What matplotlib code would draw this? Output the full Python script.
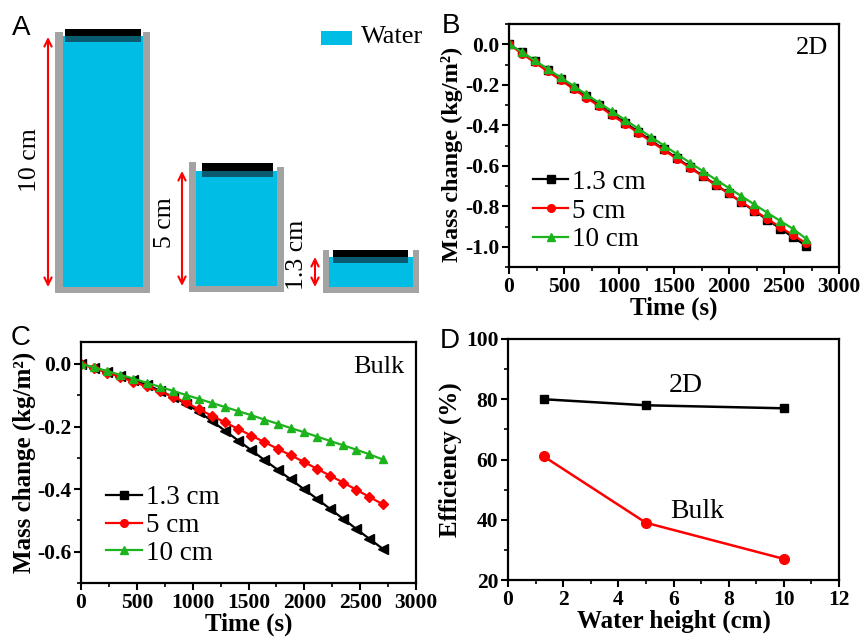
import matplotlib
matplotlib.use("Agg")
import matplotlib.pyplot as plt
from matplotlib.patches import Rectangle
from matplotlib.lines import Line2D
from matplotlib.ticker import MultipleLocator

SERIF = "Liberation Serif"
SANS = "Liberation Sans"

# ---------------- data ----------------
time_s = [0, 117, 235, 352, 470, 587, 704, 822, 939, 1057, 1174, 1291,
          1409, 1526, 1643, 1761, 1878, 1996, 2113, 2230, 2348, 2465, 2583, 2700]

labels = ["1.3 cm", "5 cm", "10 cm"]

# Panel B (2D)
b_13 = [0, -0.040, -0.084, -0.127, -0.171, -0.214, -0.258, -0.301, -0.345, -0.388,
        -0.432, -0.475, -0.519, -0.562, -0.606, -0.649, -0.693, -0.736, -0.780,
        -0.823, -0.866, -0.910, -0.953, -0.995]
b_5 = [0, -0.046, -0.090, -0.134, -0.177, -0.221, -0.264, -0.307, -0.351, -0.394,
       -0.437, -0.480, -0.523, -0.566, -0.609, -0.652, -0.695, -0.737, -0.779,
       -0.821, -0.862, -0.903, -0.943, -0.982]
b_10 = [0, -0.038, -0.080, -0.122, -0.164, -0.206, -0.248, -0.290, -0.332, -0.374,
        -0.416, -0.458, -0.500, -0.542, -0.584, -0.626, -0.668, -0.709, -0.750,
        -0.791, -0.832, -0.872, -0.912, -0.960]

# Panel C (Bulk)
c_13 = [0, -0.012, -0.025, -0.038, -0.052, -0.067, -0.085, -0.105, -0.127, -0.153,
        -0.183, -0.214, -0.245, -0.276, -0.307, -0.338, -0.369, -0.400, -0.431,
        -0.463, -0.495, -0.527, -0.559, -0.590]
c_5 = [0, -0.014, -0.028, -0.042, -0.057, -0.072, -0.088, -0.105, -0.123, -0.145,
       -0.166, -0.187, -0.208, -0.229, -0.250, -0.271, -0.292, -0.313, -0.335,
       -0.357, -0.379, -0.402, -0.425, -0.448]
c_10 = [0, -0.011, -0.023, -0.035, -0.047, -0.060, -0.073, -0.086, -0.099, -0.112,
        -0.125, -0.138, -0.151, -0.164, -0.178, -0.191, -0.205, -0.218, -0.232,
        -0.246, -0.260, -0.274, -0.289, -0.305]

# Panel D
water_height = [1.3, 5, 10]
eff_2d = [80, 78, 77]
eff_bulk = [61, 39, 27]

colors = ["black", "#ff0000", "#1db31d"]

plt.rcParams["font.family"] = [SERIF, "DejaVu Serif"]

fig = plt.figure(figsize=(8.66, 6.43), dpi=100)
W, H = 866, 643

# ---------------- Panel A (schematic, pixel coords) ----------------
axa = fig.add_axes([0, 0, 1, 1], zorder=0)
axa.set_xlim(0, W)
axa.set_ylim(H, 0)
axa.axis("off")

water_c = "#00bde6"
gray_c = "#a3a3a3"
teal_c = "#0a5a70"

def rect(x0, y0, x1, y1, c):
    axa.add_patch(Rectangle((x0, y0), x1 - x0, y1 - y0, facecolor=c, edgecolor="none"))

def container(wl0, wl1, wr0, wr1, top_l, top_r, bottom, water_top, lid_x0, lid_x1, lid_top):
    rect(wl1, water_top, wr0, bottom - 6, water_c)
    rect(wl0, top_l, wl1, bottom, gray_c)
    rect(wr0, top_r, wr1, bottom, gray_c)
    rect(wl0, bottom - 6, wr1, bottom, gray_c)
    rect(lid_x0, lid_top, lid_x1, water_top, "black")
    rect(lid_x0, water_top, lid_x1, water_top + 6, teal_c)

container(55, 63, 143, 150, 32, 32, 293, 36, 65, 141, 29)
container(189, 196, 277, 284, 162, 167, 292, 171, 202, 273, 163)
container(323, 329, 413, 419, 250, 250, 293, 257, 333, 408, 250)

def arrow(x, y0, y1):
    axa.annotate("", xy=(x, y0), xytext=(x, y1),
                 arrowprops=dict(arrowstyle="<->", color="red", lw=1.5,
                                 shrinkA=0, shrinkB=0, mutation_scale=13))

arrow(48, 37, 287)
arrow(182, 171, 286)
arrow(315, 257, 287)
axa.text(30, 160, "10 cm", rotation=90, ha="center", va="center", fontsize=18.5)
axa.text(165, 223, "5 cm", rotation=90, ha="center", va="center", fontsize=18.5)
axa.text(297, 255, "1.3 cm", rotation=90, ha="center", va="center", fontsize=18.5)
rect(321, 31, 352, 45, water_c)
axa.text(361, 37, "Water", ha="left", va="center", fontsize=19)

# ---------------- helper ----------------
def style(ax, xmaj, xmin, ymaj, ymin):
    for s in ax.spines.values():
        s.set_linewidth(1.6)
    ax.xaxis.set_major_locator(MultipleLocator(xmaj))
    ax.xaxis.set_minor_locator(MultipleLocator(xmin))
    ax.yaxis.set_major_locator(MultipleLocator(ymaj))
    ax.yaxis.set_minor_locator(MultipleLocator(ymin))
    ax.tick_params(which="major", direction="out", length=5, width=1.5,
                   labelsize=15.5, pad=2, top=False, right=False)
    ax.tick_params(which="minor", direction="out", length=3, width=1.2,
                   top=False, right=False)
    for lab in ax.get_xticklabels() + ax.get_yticklabels():
        lab.set_fontweight("bold")

def px_axes(left, right, top, bottom):
    return fig.add_axes([left / W, (H - bottom) / H, (right - left) / W, (bottom - top) / H], zorder=2)

YLAB = "Mass change (kg/m²)"

# ---------------- Panel B ----------------
axb = px_axes(509, 839, 24, 267)
mk = ["s", "o", "^"]
for ys, c, m, lab in zip([b_13, b_5, b_10], colors, mk, labels):
    axb.plot(time_s, ys, color=c, marker=m, markersize=5.5, lw=1.6, label=lab)
axb.set_xlim(0, 3000)
axb.set_ylim(-1.1, 0.1)
style(axb, 500, 250, 0.2, 0.1)
axb.set_yticks([0.0, -0.2, -0.4, -0.6, -0.8, -1.0])
axb.set_yticklabels(["0.0", "-0.2", "-0.4", "-0.6", "-0.8", "-1.0"], fontweight="bold")
axb.set_xlabel("Time (s)", fontsize=18, fontweight="bold", labelpad=0)
axb.set_ylabel(YLAB, fontsize=17.5, fontweight="bold")
axb.yaxis.set_label_coords(-0.14, 0.465)
axb.text(0.967, 0.90, "2D", transform=axb.transAxes, ha="right", va="center", fontsize=19)
axb.legend(loc="upper left", bbox_to_anchor=(0.073, 0.40), frameon=False, fontsize=19.5,
           handlelength=1.3, handletextpad=0.15, labelspacing=0.14, borderpad=0, borderaxespad=0)

# ---------------- Panel C ----------------
axc = px_axes(81, 416, 342, 583)
mk_c = ["<", "D", "^"]
ms_c = [6.5, 5, 6]
for ys, c, m, s in zip([c_13, c_5, c_10], colors, mk_c, ms_c):
    axc.plot(time_s, ys, color=c, marker=m, markersize=s, lw=1.6)
axc.set_xlim(0, 3000)
axc.set_ylim(-0.7, 0.07)
style(axc, 500, 250, 0.2, 0.1)
axc.set_yticks([0.0, -0.2, -0.4, -0.6])
axc.set_yticklabels(["0.0", "-0.2", "-0.4", "-0.6"], fontweight="bold")
axc.set_xlabel("Time (s)", fontsize=18, fontweight="bold", labelpad=0)
axc.set_ylabel(YLAB, fontsize=18, fontweight="bold", labelpad=1)
axc.text(0.967, 0.896, "Bulk", transform=axc.transAxes, ha="right", va="center", fontsize=19)
handles = [Line2D([], [], color=c, marker=m, markersize=5.5, lw=1.6) for c, m in zip(colors, mk)]
axc.legend(handles, labels, loc="upper left", bbox_to_anchor=(0.076, 0.405), frameon=False,
           fontsize=19.5, handlelength=1.3, handletextpad=0.15, labelspacing=0.1,
           borderpad=0, borderaxespad=0)

# ---------------- Panel D ----------------
axd = px_axes(508, 839, 339, 580)
axd.plot(water_height, eff_2d, color="black", marker="s", markersize=6, lw=1.8)
axd.plot(water_height, eff_bulk, color="#ff0000", marker="o", markersize=7, lw=1.8)
axd.set_xlim(0, 12)
axd.set_ylim(20, 100)
style(axd, 2, 1, 20, 10)
axd.set_xlabel("Water height (cm)", fontsize=18, fontweight="bold", labelpad=0)
axd.set_ylabel("Efficiency (%)", fontsize=18, fontweight="bold", labelpad=3)
axd.text(6.45, 84.7, "2D", ha="center", va="center", fontsize=20)
axd.text(6.85, 42.6, "Bulk", ha="center", va="center", fontsize=20)

# ---------------- Panel letters ----------------
for txt, x, y in [("A", 12, 28), ("B", 442, 26), ("C", 11, 338), ("D", 440, 341)]:
    fig.text(x / W, 1 - y / H, txt, ha="left", va="center", fontsize=20, family=SANS)

fig.savefig("out.png", dpi=100)
